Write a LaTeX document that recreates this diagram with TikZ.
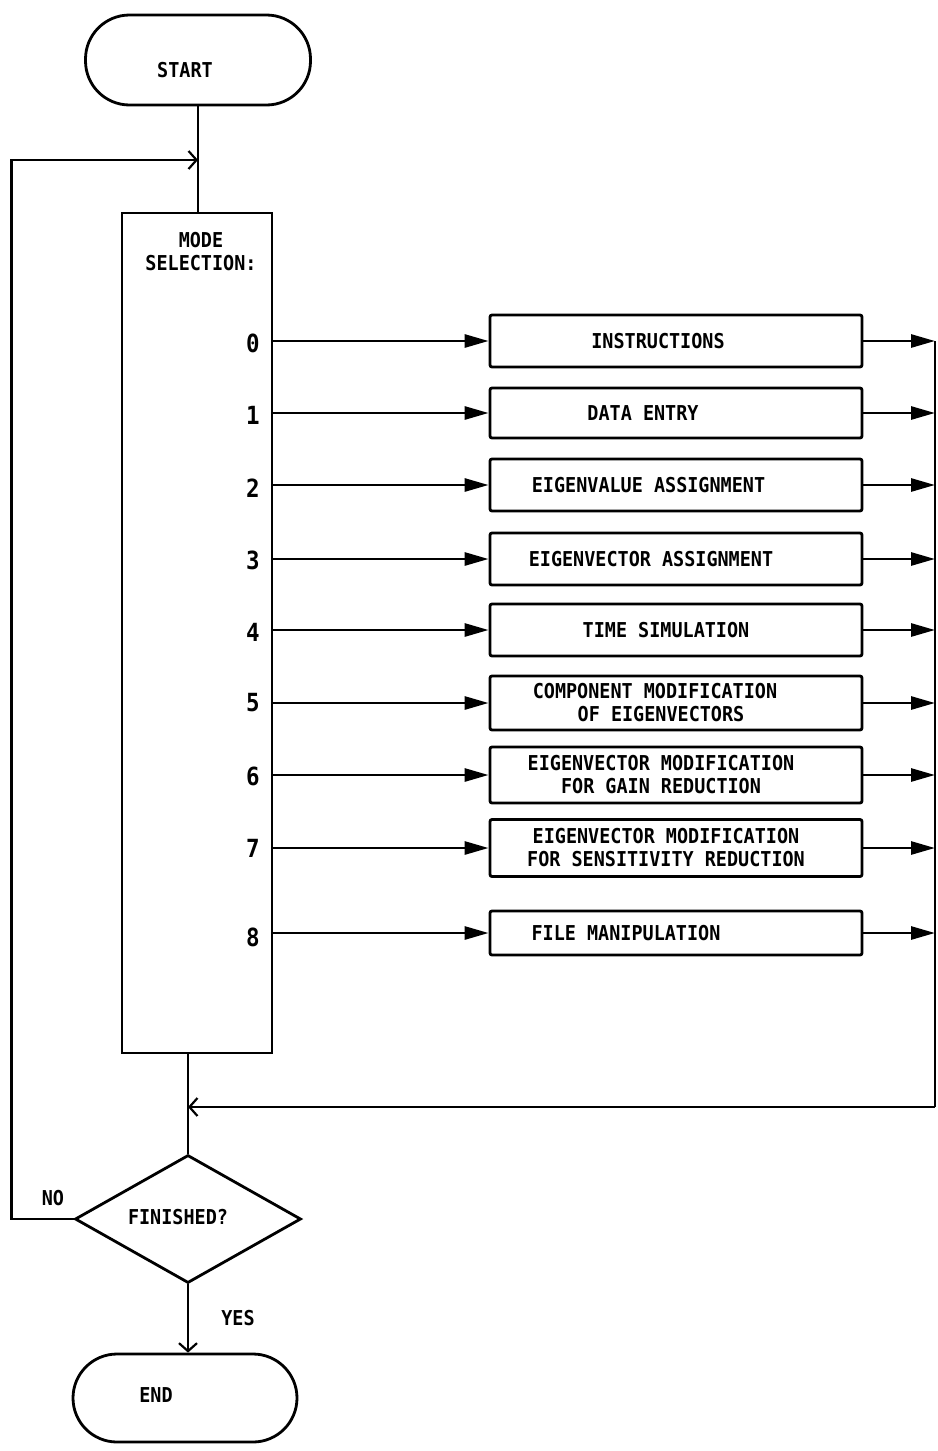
\documentclass[tikz,border=0pt]{standalone}
\usepackage{fontspec}
\setmonofont{DejaVu Sans Mono}[FakeStretch=0.9]
\usetikzlibrary{arrows.meta,shapes.geometric}
\begin{document}
\begin{tikzpicture}[x=1pt,y=-1pt,
  every node/.style={font=\fontsize{20.5}{23}\selectfont\ttfamily\bfseries},
  line/.style={line width=2.8pt},
  fillarrow/.style={line, -{Triangle[length=24pt,width=13pt]}},
  openarrow/.style={line, -{Straight Barb[length=8pt,width=18pt,line width=2.2pt]}},
  terminal/.style={draw, line width=2.8pt, rounded corners=44pt, minimum width=225pt, minimum height=90pt, inner sep=0pt},
  procbox/.style={draw, line width=2.8pt, rounded corners=2pt, minimum width=372pt, inner sep=0pt, align=center},
  num/.style={font=\fontsize{25}{28}\selectfont\ttfamily\bfseries, inner sep=0pt}]
\useasboundingbox (0,0) rectangle (937,1451);

% terminals
\node[terminal] (start) at (198,60) {};
\node[inner sep=0pt] (starttext) at (185,70) {START};
\node[terminal, minimum width=224pt, minimum height=88pt] (end) at (185,1398) {};
\node[inner sep=0pt] (endtext) at (156,1395) {END};

% mode selection column
\node[draw, line width=2.8pt, minimum width=150pt, minimum height=840pt, inner sep=0pt] (mode) at (197,633) {};
\node[align=center, inner sep=0pt] (modelabel) at (201,252) {MODE\\SELECTION:};

% decision
\node[draw, diamond, line width=2.8pt, minimum width=226pt, minimum height=128pt, aspect=1.77, inner sep=0pt] (dec) at (188,1219) {};
\node[inner sep=0pt] (dectext) at (178,1217) {FINISHED?};

% boxes
\node[procbox, minimum height=52pt] (b0) at (676,341) {\hspace*{-36pt}INSTRUCTIONS};
\node[procbox, minimum height=50pt] (b1) at (676,413) {\hspace*{-66pt}DATA ENTRY};
\node[procbox, minimum height=52pt] (b2) at (676,485) {\hspace*{-55pt}EIGENVALUE ASSIGNMENT};
\node[procbox, minimum height=52pt] (b3) at (676,559) {\hspace*{-50pt}EIGENVECTOR ASSIGNMENT};
\node[procbox, minimum height=52pt] (b4) at (676,630) {\hspace*{-20pt}TIME SIMULATION};
\node[procbox, minimum height=54pt] (b5) at (676,703) {\hspace*{-42pt}COMPONENT MODIFICATION\\\hspace*{-30pt}OF EIGENVECTORS};
\node[procbox, minimum height=56pt] (b6) at (676,775) {\hspace*{-30pt}EIGENVECTOR MODIFICATION\\\hspace*{-30pt}FOR GAIN REDUCTION};
\node[procbox, minimum height=57pt] (b7) at (676,848) {\hspace*{-20pt}EIGENVECTOR MODIFICATION\\\hspace*{-20pt}FOR SENSITIVITY REDUCTION};
\node[procbox, minimum height=44pt] (b8) at (676,933) {\hspace*{-100pt}FILE MANIPULATION};

% numbers
\node[num] (n0) at (253,343) {0};
\node[num] (n1) at (253,415) {1};
\node[num] (n2) at (253,488) {2};
\node[num] (n3) at (253,560) {3};
\node[num] (n4) at (253,632) {4};
\node[num] (n5) at (253,703) {5};
\node[num] (n6) at (253,776) {6};
\node[num] (n7) at (253,848) {7};
\node[num] (n8) at (253,937) {8};

% bus coordinates
\coordinate (busTop) at (935,341);
\coordinate (busBot) at (935,1107);
\coordinate (merge) at (188,1107);
\coordinate (loopin) at (198,160);

% input arrows
\foreach \i in {0,...,8}{
  \draw[fillarrow] (mode.east |- b\i.west) -- (b\i.west);
  \draw[fillarrow] (b\i.east) -- (b\i.east -| busTop);
}

% bus and return
\draw[line] (busTop) -- (busBot);
\draw[openarrow] (busBot) -- (merge);
\draw[line] (mode.south -| dec.north) -- (dec.north);

% start to mode
\draw[line] (start.south) -- (start.south |- mode.north);

% NO loop
\draw[openarrow] (dec.west) -- ++(-62,0) |- (loopin);
\node[inner sep=0pt] (nolabel) at (53,1198) {NO};

% YES
\draw[openarrow] (dec.south) -- (dec.south |- end.north);
\node[inner sep=0pt] (yeslabel) at (238,1318) {YES};
\end{tikzpicture}
\end{document}
